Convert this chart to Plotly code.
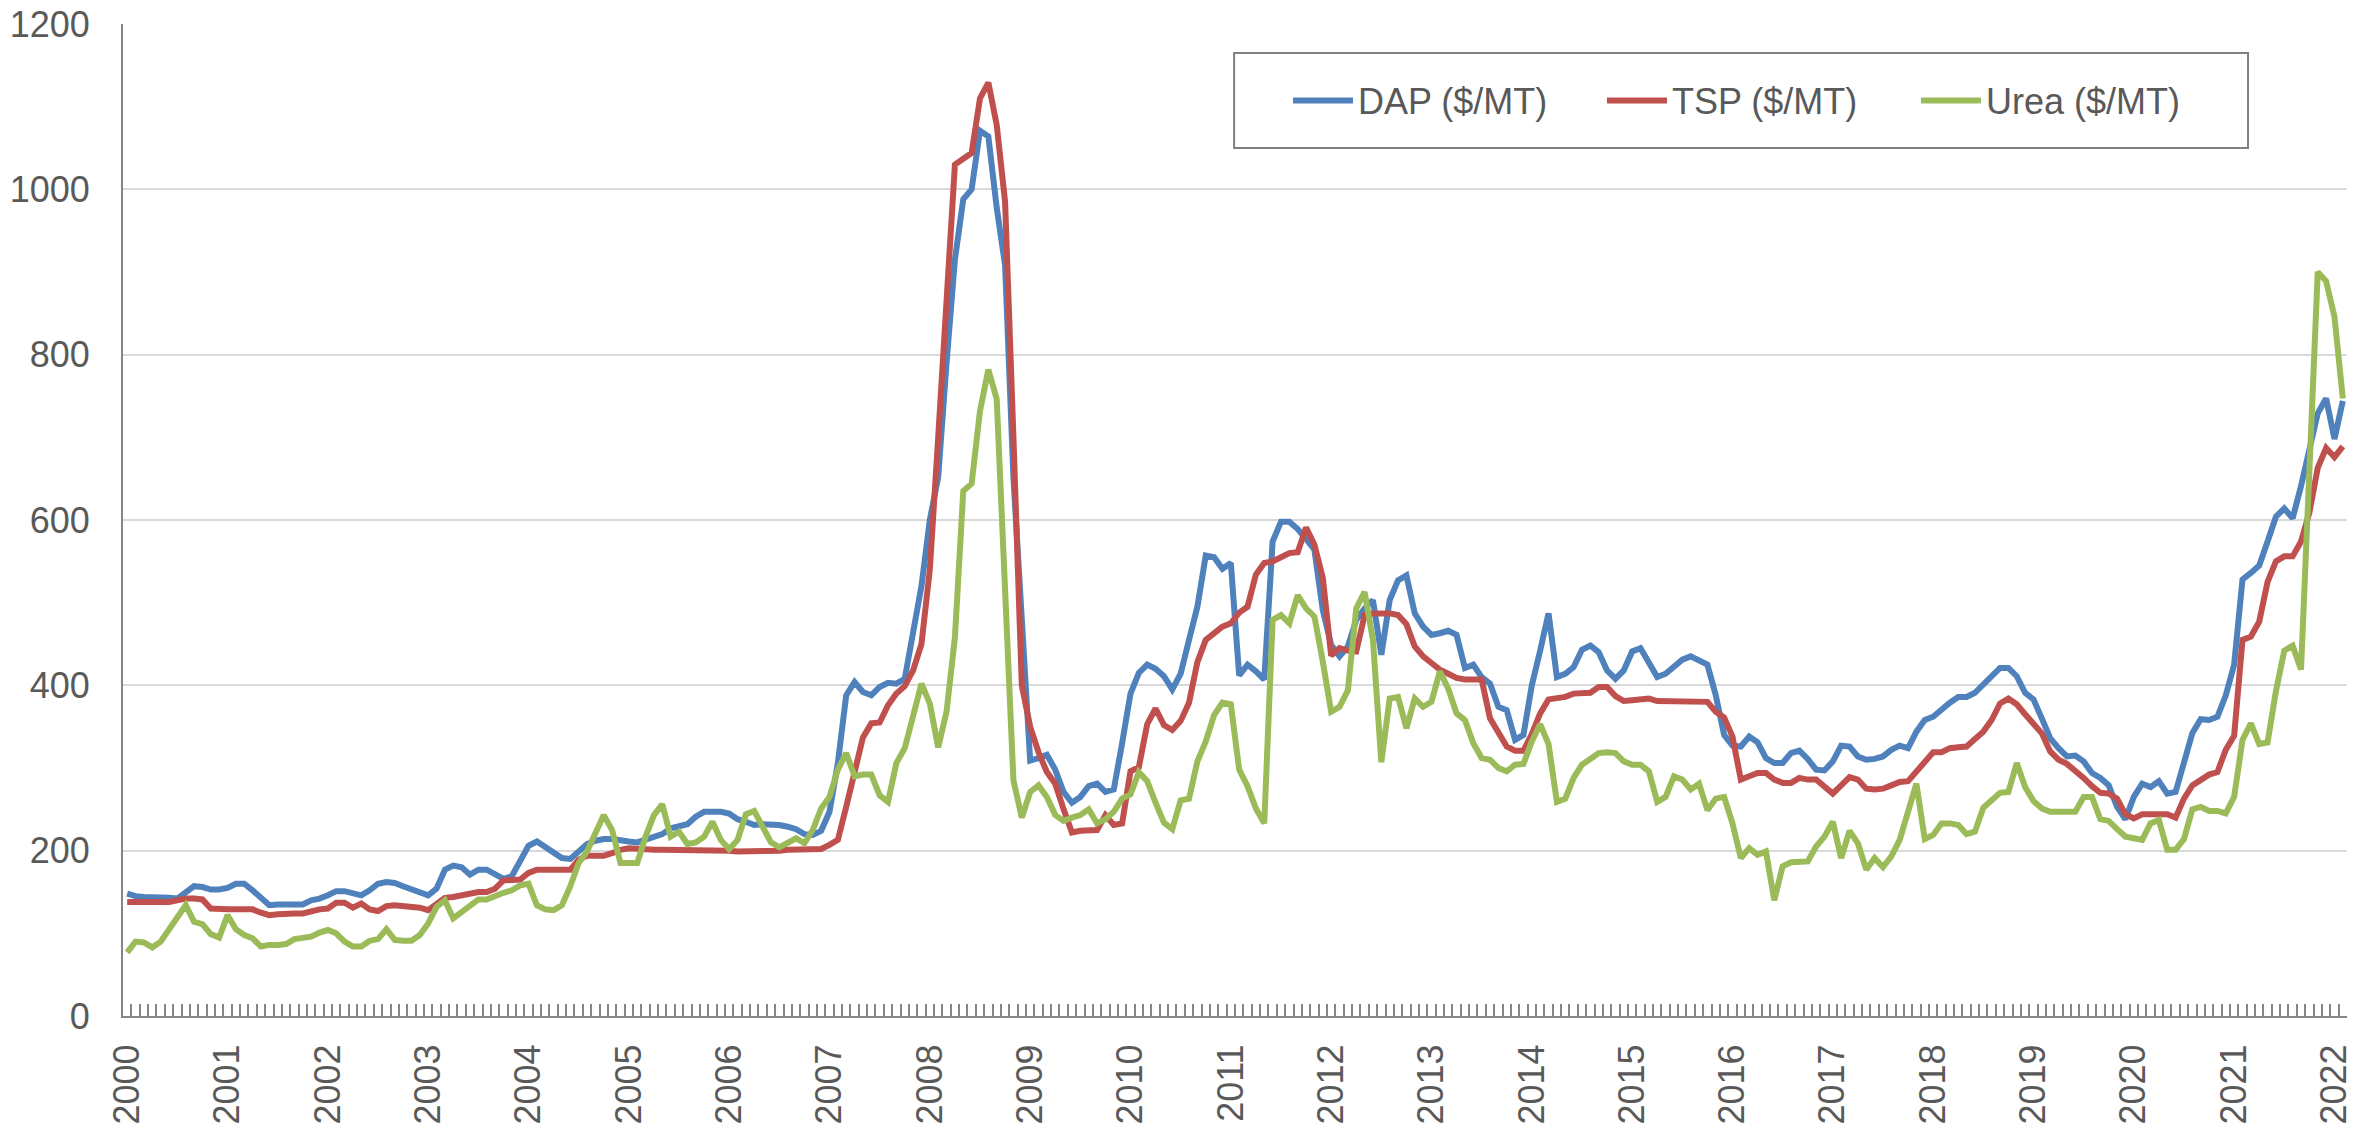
import plotly.graph_objects as go

years = [str(y) for y in range(2000, 2023)]
months = [f"{y}-{m:02d}" for y in range(2000, 2023) for m in range(1, 13)][:266]

dap = [
    148,145,144,144,144,143,142,150,157,156,153,153,
    155,160,160,152,143,134,135,135,135,135,140,142,
    146,151,151,149,146,152,160,162,161,157,153,149,
    146,154,177,182,180,171,177,177,172,166,169,189,
    206,211,205,199,191,190,200,208,212,214,214,212,
    211,210,213,217,220,227,229,232,241,247,247,247,
    245,238,235,231,232,232,231,229,226,220,219,224,
    247,306,388,404,392,388,398,403,402,408,460,520,
    600,652,790,915,988,1000,1071,1064,978,908,651,473,
    309,312,316,298,271,258,265,278,281,271,274,330,
    390,415,425,420,411,395,414,455,495,557,555,541,
    548,412,425,417,407,574,598,598,589,577,564,491,
    449,435,447,479,493,503,437,503,527,533,487,471,
    461,463,466,461,421,425,410,402,374,370,334,340,
    400,442,487,410,414,422,443,448,440,418,408,418,
    441,445,429,410,414,422,431,435,429,425,388,340,
    327,326,338,331,312,306,306,318,321,311,298,297,
    308,327,326,314,310,311,314,322,327,324,344,358,
    362,371,379,386,386,391,401,409,421,421,411,391,
    383,360,336,324,314,315,308,294,288,279,253,238,
    265,281,277,284,269,271,304,342,359,358,362,388,
    425,528,536,545,574,604,614,602,641,682,729,747,
    698,744,
]

tsp = [
    138,138,138,138,138,138,140,142,142,141,130,129,
    129,129,129,129,125,122,123,124,124,124,127,129,
    130,137,137,131,136,129,127,133,134,133,131,131,
    128,136,143,144,146,148,150,150,154,164,164,165,
    173,177,177,177,177,177,189,194,194,194,197,201,
    203,202,201,201,201,201,200,200,200,200,200,200,
    200,199,199,199,199,199,200,201,201,201,201,202,
    207,213,253,294,337,354,355,376,390,399,418,450,
    540,700,880,1030,1037,1044,1110,1129,1078,985,700,400,
    350,319,295,281,250,222,224,225,225,243,231,233,
    296,301,353,372,352,346,357,379,428,455,464,471,
    475,488,495,534,548,550,555,560,561,591,570,530,
    436,445,442,441,485,487,487,487,485,474,447,435,
    427,419,414,409,407,407,407,360,344,326,321,321,
    341,366,383,384,386,390,390,391,398,398,387,381,
    382,383,384,381,381,381,381,380,380,380,368,361,
    338,286,290,294,294,286,282,282,288,286,286,278,
    269,279,289,286,275,274,275,279,283,284,295,308,
    319,319,324,325,326,335,344,358,378,384,377,365,
    353,342,320,310,305,297,288,278,270,269,263,244,
    239,244,244,244,244,240,263,279,286,292,295,322,
    339,455,459,477,525,550,556,556,574,609,663,687,
    676,689,
]

urea = [
    77,90,89,83,90,105,122,134,114,111,99,95,
    122,105,98,94,84,86,86,87,93,95,96,101,
    104,100,90,84,84,91,93,105,92,91,91,98,
    112,132,140,118,126,132,141,141,146,149,152,158,
    160,134,129,128,134,157,185,199,221,243,225,185,
    185,185,217,243,256,217,223,208,210,217,235,213,
    202,213,244,248,229,210,204,210,215,209,225,251,
    265,298,318,290,292,292,267,259,306,324,362,402,
    378,325,368,458,635,644,732,782,746,515,285,240,
    271,279,265,243,236,240,243,250,233,238,247,263,
    268,295,284,258,234,226,261,263,308,332,364,379,
    377,298,278,251,233,479,485,475,509,493,483,429,
    368,374,394,493,513,455,307,384,386,348,384,374,
    380,417,396,366,358,330,312,310,300,296,304,305,
    332,353,329,259,263,288,304,311,318,319,318,308,
    304,304,296,259,265,290,286,274,281,249,263,265,
    233,191,203,195,199,140,181,186,186,187,205,217,
    235,191,224,209,177,191,180,193,213,249,281,214,
    219,233,233,231,220,223,252,261,270,271,306,277,
    260,251,247,247,247,247,265,265,238,236,226,217,
    215,213,233,237,201,201,214,250,253,248,248,245,
    265,334,354,329,331,393,442,448,419,640,900,889,
    846,747,
]

series = [
    ("DAP ($/MT)", dap, "#4f81bd"),
    ("TSP ($/MT)", tsp, "#c0504d"),
    ("Urea ($/MT)", urea, "#9bbb59"),
]

FONT = "Liberation Sans, Arial, sans-serif"
GREY = "#595959"
AXIS = "#868686"

n = len(months)
idx = list(range(n))

fig = go.Figure()
for name, vals, col in series:
    fig.add_trace(go.Scatter(
        x=idx, y=vals, name=name, mode="lines",
        line=dict(color=col, width=6),
        customdata=months, hovertemplate="%{customdata}: %{y}<extra>" + name + "</extra>",
    ))

# invisible helper trace so that the month tick axis is drawn
fig.add_trace(go.Scatter(
    x=[-0.5, n - 0.5], y=[0, 0], xaxis="x2", mode="markers",
    marker=dict(opacity=0, size=1), showlegend=False, hoverinfo="skip",
))

fig.update_layout(
    width=2374, height=1126,
    margin=dict(l=123, r=27, t=24, b=110, autoexpand=False),
    paper_bgcolor="white", plot_bgcolor="white",
    font=dict(family=FONT, size=36, color=GREY),
    showlegend=True,
    legend=dict(
        orientation="h", x=0.7356, y=0.9229, xanchor="center", yanchor="middle",
        bgcolor="rgba(0,0,0,0)", borderwidth=0,
        font=dict(family=FONT, size=36, color=GREY),
        entrywidth=239, entrywidthmode="pixels", itemwidth=60,
    ),
    xaxis=dict(
        range=[-0.5, n - 0.5], automargin=False,
        tickmode="array", tickvals=[12 * k for k in range(len(years))], ticktext=years,
        tickangle=-90, ticks="", ticklabelstandoff=12, ticklabeloverflow="allow",
        showgrid=False, showline=True, linecolor=AXIS, linewidth=2,
        zeroline=False, tickfont=dict(family=FONT, size=36, color=GREY),
    ),
    xaxis2=dict(
        overlaying="x", anchor="y", side="bottom", automargin=False,
        range=[-0.5, n - 0.5], tickmode="linear", tick0=-0.5, dtick=1,
        ticks="inside", ticklen=12, tickwidth=2, tickcolor=AXIS,
        showticklabels=False, showgrid=False, showline=False, zeroline=False,
    ),
    yaxis=dict(
        range=[0, 1200], tickmode="linear", tick0=0, dtick=200, automargin=False,
        showgrid=True, gridcolor="#d9d9d9", gridwidth=2,
        showline=True, linecolor=AXIS, linewidth=2, zeroline=False,
        ticks="", ticklabelstandoff=24, ticklabeloverflow="allow",
        tickfont=dict(family=FONT, size=36, color=GREY),
    ),
    shapes=[dict(
        type="rect", xref="paper", yref="paper",
        x0=0.4996, x1=0.9555, y0=0.875, y1=0.9708,
        line=dict(color="#7f7f7f", width=2), fillcolor="white", layer="below",
    )],
)

# remove the browser's default 8px body margin so the figure fills the window exactly
fig.write_html(
    "out.html",
    config={"displayModeBar": False},
    post_script="document.body.style.margin='0';",
)
